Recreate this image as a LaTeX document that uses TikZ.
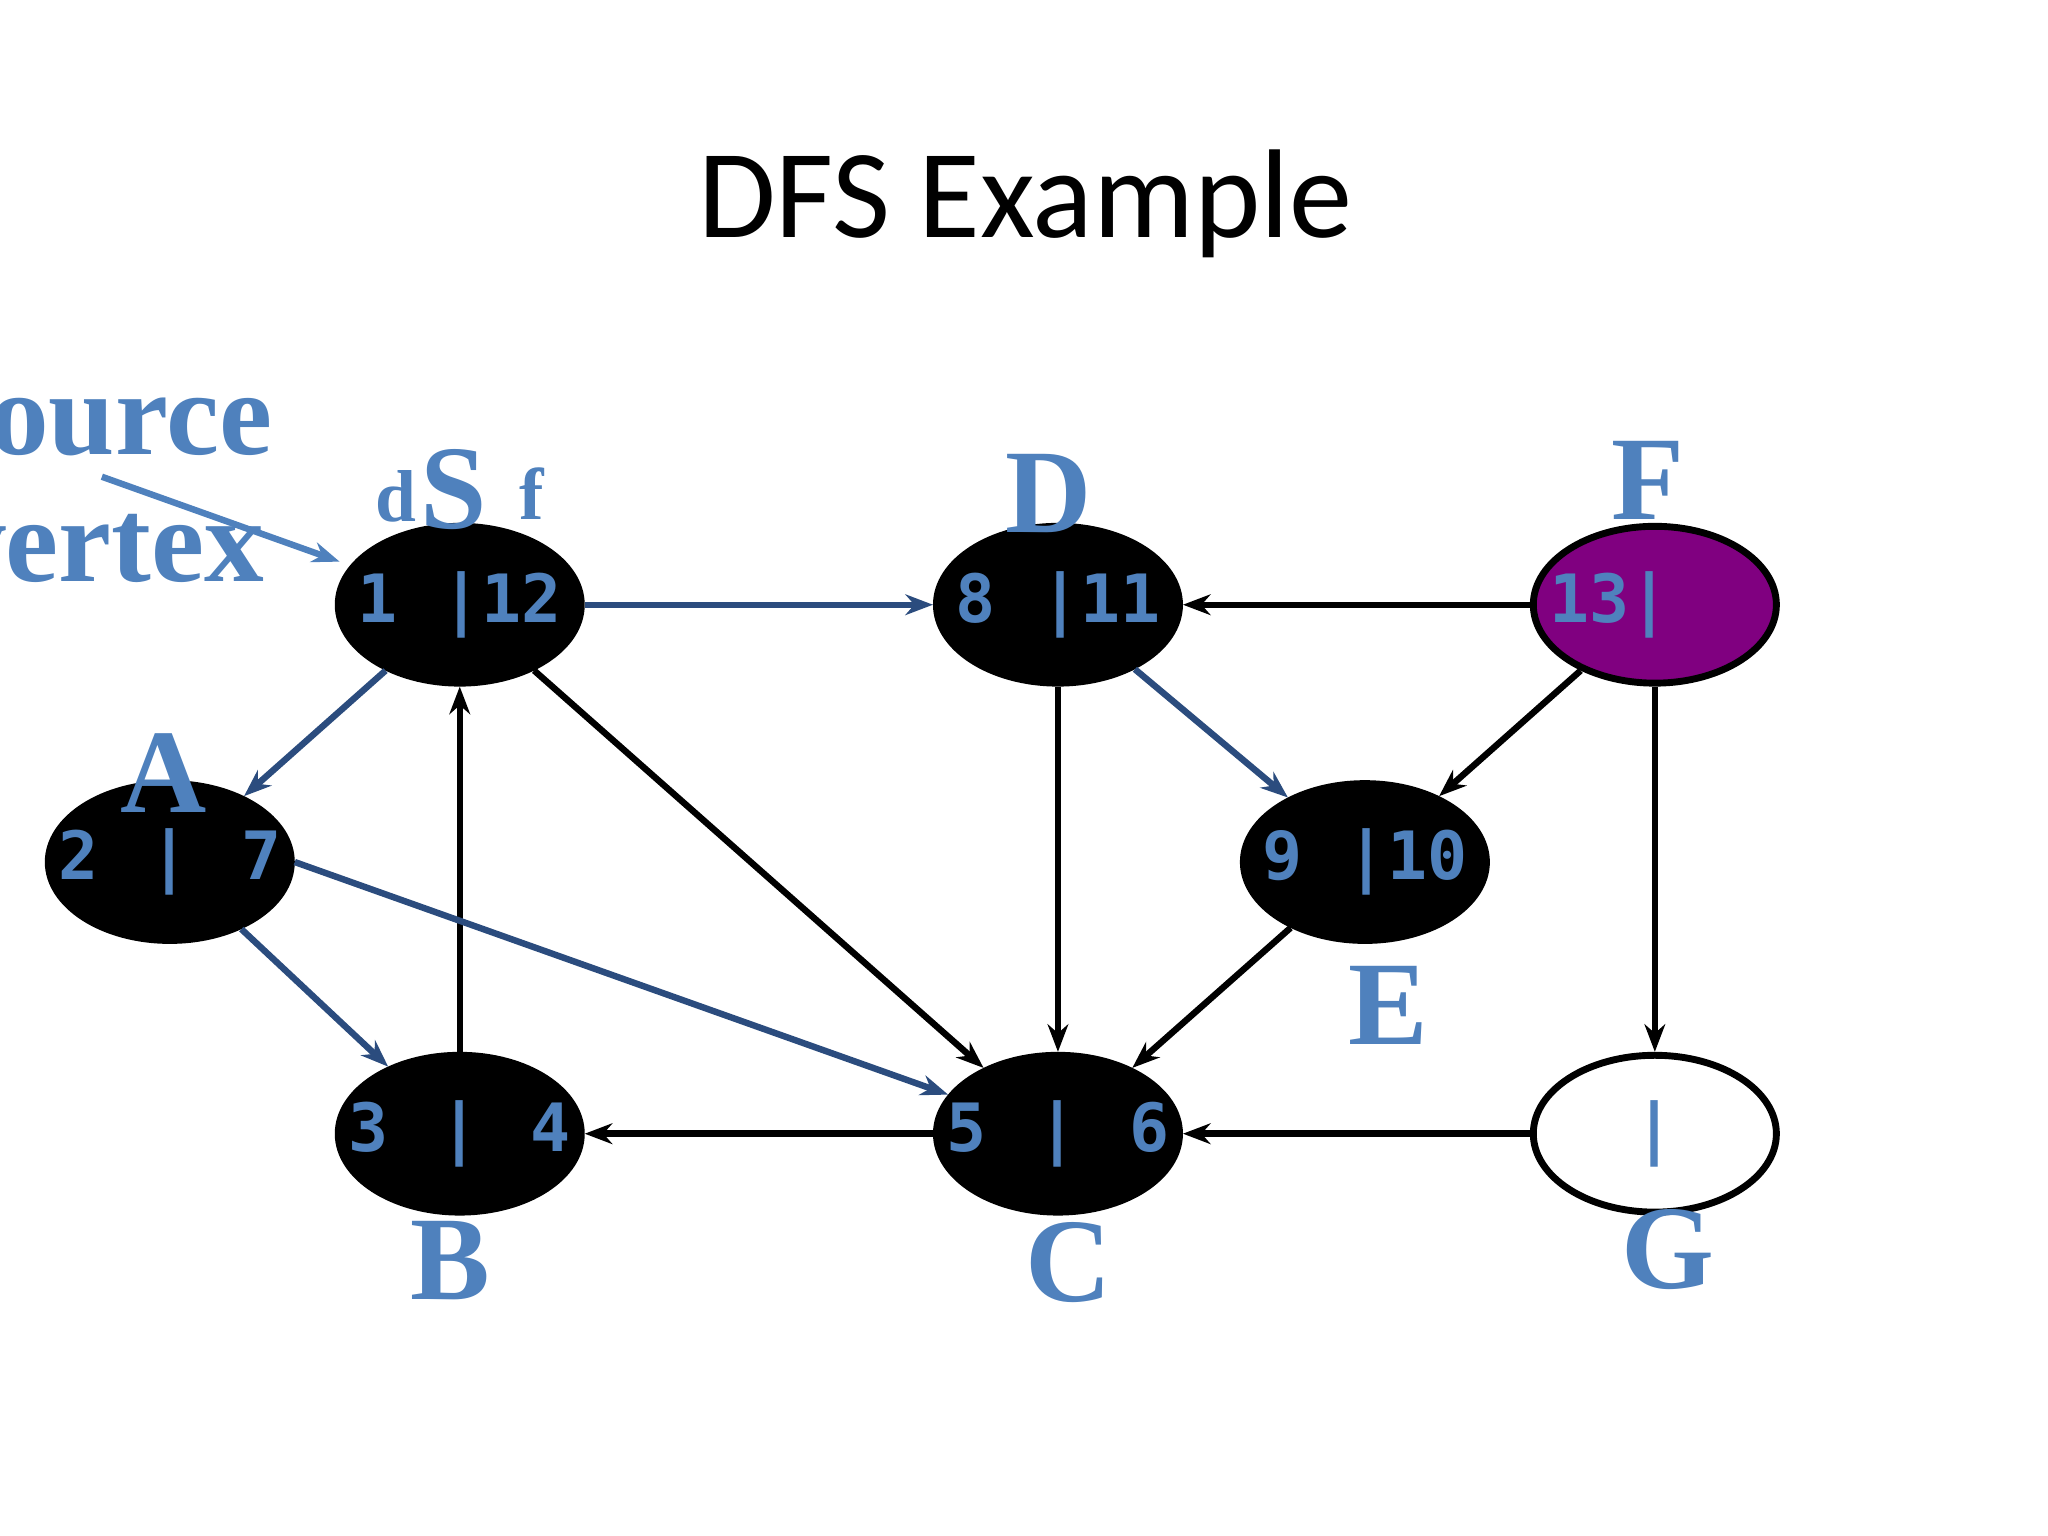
\documentclass[tikz,border=0pt]{standalone}
\usepackage{fontspec}
\setmainfont{Liberation Serif}
\newfontfamily\ttl{Carlito}
\newfontfamily\mono{DejaVu Sans Mono}
\usetikzlibrary{shapes.geometric,arrows.meta}
\definecolor{lb}{HTML}{4F81BD}
\definecolor{db}{HTML}{2B4C7E}
\definecolor{pur}{HTML}{800080}
\newcommand{\vt}[1]{\makebox[0pt]{#1}}
\begin{document}
\begin{tikzpicture}[x=0.01cm,y=0.01cm,
  v/.style={ellipse,draw=black,line width=1.5pt,fill=black,minimum width=1.86cm,minimum height=1.2cm,inner sep=0pt,text=lb,font=\mono\bfseries\fontsize{14.5}{14.5}\selectfont},
  lab/.style={text=lb,font=\bfseries\fontsize{26}{26}\selectfont,inner sep=0pt},
  e/.style={-{Stealth[length=6pt,width=4.5pt]},line width=1.4pt,black},
  eb/.style={e,db}]
\useasboundingbox (0,0) rectangle (1568,-1176);
\clip (0,0) rectangle (1568,-1176);
\node[font=\ttl\fontsize{27.5}{27.5}\selectfont] (t) at (785,-156) {DFS Example};
\node[v] (S) at (352,-463) {\vt{1\,\,\,\,|12}};
\node[v] (D) at (810,-463) {\vt{8\,\,\,\,|11}};
\node[v,fill=pur] (F) at (1267,-463) {\vt{13|\ \ \,}};
\node[v] (A) at (130,-660) {\vt{2\ \,|\ \,7}};
\node[v] (E) at (1045,-660) {\vt{9\,\,\,\,|10}};
\node[v] (B) at (352,-868) {\vt{3\ \,|\ \,4}};
\node[v] (C) at (810,-868) {\vt{5\ \,|\ \,6}};
\node[v,fill=white] (G) at (1267,-868) {\vt{|}};
\node[lab] (lS) at (347,-375) {S};
\node[lab,font=\bfseries\fontsize{16}{16}\selectfont] (ld) at (303,-380) {d};
\node[lab,font=\bfseries\fontsize{16}{16}\selectfont] (lf) at (407,-378) {f};
\node[lab] (lD) at (803,-378) {D};
\node[lab] (lF) at (1262,-368) {F};
\node[lab] (lA) at (125,-592) {A};
\node[lab] (lE) at (1063,-770) {E};
\node[lab] (lB) at (345,-965) {B};
\node[lab] (lC) at (818,-967) {C};
\node[lab] (lG) at (1277,-957) {G};
\node[lab,anchor=east] (src) at (209,-318) {Source};
\node[lab,anchor=east] (vtx) at (203,-420) {vertex};
\coordinate (a0) at (78,-365);
\coordinate (a1) at (260,-430);
\draw[-{Stealth[length=6pt,width=4.5pt]},line width=1.4pt,lb] (a0) -- (a1);
\draw[eb] (S) -- (D);
\draw[eb] (S) -- (A);
\draw[e] (S) -- (C);
\draw[e] (B) -- (S);
\draw[eb] (A) -- (B);
\draw[eb] (A.east) -- (C);
\draw[e] (D) -- (C);
\draw[eb] (D) -- (E);
\draw[e] (F) -- (D);
\draw[e] (F) -- (E);
\draw[e] (F) -- (G);
\draw[e] (E) -- (C);
\draw[e] (C) -- (B);
\draw[e] (G) -- (C);
\end{tikzpicture}
\end{document}
